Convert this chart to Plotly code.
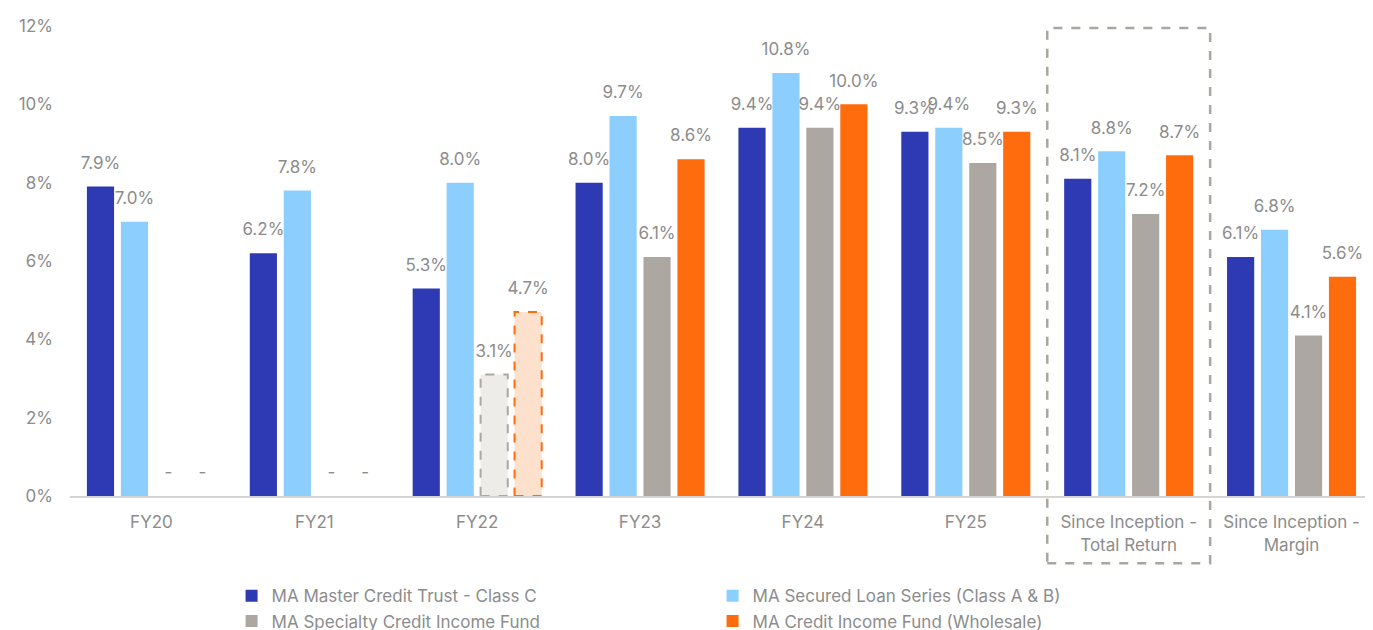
import plotly.graph_objects as go

categories = ["FY20", "FY21", "FY22", "FY23", "FY24", "FY25",
              "Since Inception -<br>Total Return", "Since Inception -<br>Margin"]
series_names = ["MA Master Credit Trust - Class C",
                "MA Secured Loan Series (Class A & B)",
                "MA Specialty Credit Income Fund",
                "MA Credit Income Fund (Wholesale)"]
master_credit = [7.9, 6.2, 5.3, 8.0, 9.4, 9.3, 8.1, 6.1]
secured_loan = [7.0, 7.8, 8.0, 9.7, 10.8, 9.4, 8.8, 6.8]
specialty_credit = [0, 0, 3.1, 6.1, 9.4, 8.5, 7.2, 4.1]
credit_income = [0, 0, 4.7, 8.6, 10.0, 9.3, 8.7, 5.6]
y_ticks = [0, 2, 4, 6, 8, 10, 12]
y_tick_labels = [f"{v}%" for v in y_ticks]

series_values = [master_credit, secured_loan, specialty_credit, credit_income]
colors = ["#2e3ab3", "#8ccfff", "#aca7a0", "#ff6c0e"]
light_colors = ["#2e3ab3", "#8ccfff", "#eeece9", "#fde1cd"]
partial_year = "FY22"  # partial-year bars drawn dashed for the two newer funds
partial_series = [2, 3]

BARGAP = 0.166
BARGROUPGAP = 0.2
LABEL_GREY = "#8c8c8c"
FONT = "Inter, Roboto, sans-serif"

fig = go.Figure()
for i, (name, vals) in enumerate(zip(series_names, series_values)):
    bar_colors = []
    for c, v in zip(categories, vals):
        if c == partial_year and i in partial_series:
            bar_colors.append(light_colors[i])
        else:
            bar_colors.append(colors[i])
    fig.add_trace(go.Bar(
        x=categories, y=vals, name=name, offsetgroup=str(i),
        marker=dict(color=bar_colors, line=dict(width=0)),
        hovertemplate="%{y:.1f}%<extra>" + name + "</extra>",
    ))

for i, vals in enumerate(series_values):
    labels = ["-" if v == 0 else f"{v:.1f}%" for v in vals]
    fig.add_trace(go.Scatter(
        x=categories, y=vals, mode="markers+text", text=labels,
        textposition="top center", offsetgroup=str(i),
        marker=dict(size=20, color="rgba(0,0,0,0)"),
        textfont=dict(size=17, color=LABEL_GREY, family=FONT),
        showlegend=False, hoverinfo="skip", cliponaxis=False,
    ))

# dashed outlines for the partial-year bars
group_w = 1 - BARGAP
slot = group_w / len(series_values)
half_bar = slot * (1 - BARGROUPGAP) / 2
for i in partial_series:
    idx = categories.index(partial_year)
    center = -group_w / 2 + (i + 0.5) * slot
    fig.add_shape(type="rect", xref="x", yref="y",
                  x0=partial_year, x1=partial_year,
                  x0shift=center - half_bar, x1shift=center + half_bar,
                  y0=0, y1=series_values[i][idx],
                  line=dict(color=colors[i], width=2, dash="dash"),
                  fillcolor="rgba(0,0,0,0)", layer="above")

# dashed highlight box around the since-inception total return group
fig.add_shape(type="rect", xref="x", yref="paper",
              x0=categories[6], x1=categories[6], x0shift=-0.5, x1shift=0.5,
              y0=-0.143, y1=0.996,
              line=dict(color="#aaa6a0", width=2.5, dash="dash"),
              fillcolor="rgba(0,0,0,0)", layer="above")

fig.update_layout(
    width=1365, height=622,
    margin=dict(l=62, r=0, t=18, b=134, autoexpand=False),
    paper_bgcolor="white", plot_bgcolor="white",
    barmode="group", bargap=BARGAP, bargroupgap=BARGROUPGAP,
    scattermode="group", scattergap=BARGAP,
    font=dict(family=FONT, size=17, color=LABEL_GREY),
    showlegend=True,
    legend=dict(orientation="h", x=0.124, xanchor="left", y=-0.175, yanchor="top",
                entrywidth=436, entrywidthmode="pixels",
                font=dict(size=17, color=LABEL_GREY, family=FONT),
                itemclick=False, itemdoubleclick=False, traceorder="normal"),
)
fig.update_xaxes(type="category", showgrid=False, zeroline=False,
                 showline=True, linecolor="#d6d3d0", linewidth=2,
                 ticks="", ticklabelstandoff=10, automargin=False,
                 tickfont=dict(size=17, color=LABEL_GREY, family=FONT))
fig.update_yaxes(range=[0, 12], tickmode="array", tickvals=y_ticks,
                 ticktext=y_tick_labels,
                 showgrid=False, zeroline=False, showline=False,
                 ticks="", ticklabelstandoff=16, automargin=False,
                 tickfont=dict(size=17, color=LABEL_GREY, family=FONT))

fig.write_html("out.html")
